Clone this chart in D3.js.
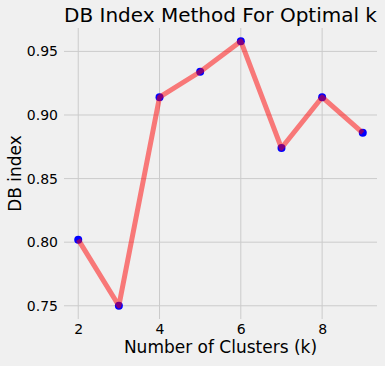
<!DOCTYPE html>
<html>
<head>
<meta charset="utf-8">
<script src="https://cdn.jsdelivr.net/npm/d3@7"></script>
<style>
  body { margin: 0; background: #f0f0f0; }
  svg { display: block; font-family: "DejaVu Sans", sans-serif; }
</style>
</head>
<body>
<div id="chart"></div>
<script>
const clusters = [2, 3, 4, 5, 6, 7, 8, 9];
const dbIndex = [0.802, 0.750, 0.914, 0.934, 0.958, 0.874, 0.914, 0.886];
const xTicks = [2, 4, 6, 8];
const yTicks = [0.75, 0.80, 0.85, 0.90, 0.95];

const width = 385, height = 366;
const margin = {top: 28, right: 8, bottom: 47, left: 64};

const svg = d3.select("#chart")
              .append("svg")
              .attr("width", width)
              .attr("height", height);

svg.append("rect")
   .attr("width", width)
   .attr("height", height)
   .attr("fill", "#f0f0f0");

// matplotlib style 5% margins
const xPad = (d3.max(clusters) - d3.min(clusters)) * 0.05;
const yPad = (d3.max(dbIndex) - d3.min(dbIndex)) * 0.05;

const x = d3.scaleLinear()
            .domain([d3.min(clusters) - xPad, d3.max(clusters) + xPad])
            .range([margin.left, width - margin.right]);
const y = d3.scaleLinear()
            .domain([d3.min(dbIndex) - yPad, d3.max(dbIndex) + yPad])
            .range([height - margin.bottom, margin.top]);

// grid
svg.append("g")
   .selectAll("line")
   .data(xTicks)
   .enter()
   .append("line")
   .attr("x1", d => x(d)).attr("x2", d => x(d))
   .attr("y1", margin.top).attr("y2", height - margin.bottom)
   .attr("stroke", "#cbcbcb").attr("stroke-width", 1);
svg.append("g")
   .selectAll("line")
   .data(yTicks)
   .enter()
   .append("line")
   .attr("x1", margin.left).attr("x2", width - margin.right)
   .attr("y1", d => y(d)).attr("y2", d => y(d))
   .attr("stroke", "#cbcbcb").attr("stroke-width", 1);

// axes (labels only, no domain)
const xAxis = svg.append("g")
   .attr("transform", "translate(0," + (height - margin.bottom) + ")")
   .call(d3.axisBottom(x).tickValues(xTicks).tickSize(0).tickPadding(5));
const yAxis = svg.append("g")
   .attr("transform", "translate(" + margin.left + ",0)")
   .call(d3.axisLeft(y).tickValues(yTicks).tickSize(0).tickPadding(6).tickFormat(d3.format(".2f")));
[xAxis, yAxis].forEach(function (g) {
    g.select(".domain").remove();
    g.selectAll("text")
     .style("font-size", "14px")
     .style("font-family", "DejaVu Sans")
     .attr("fill", "#000");
});

// markers first, then semi-transparent line over them
svg.append("g")
   .selectAll("circle")
   .data(clusters)
   .enter()
   .append("circle")
   .attr("cx", d => x(d))
   .attr("cy", (d, i) => y(dbIndex[i]))
   .attr("r", 4)
   .attr("fill", "#0000ff");

const line = d3.line()
               .x(d => x(d))
               .y((d, i) => y(dbIndex[i]));
svg.append("path")
   .datum(clusters)
   .attr("d", line)
   .attr("fill", "none")
   .attr("stroke", "#ff0000")
   .attr("stroke-opacity", 0.5)
   .attr("stroke-width", 5)
   .attr("stroke-linejoin", "round")
   .attr("stroke-linecap", "butt");

// titles
svg.append("text")
   .attr("x", (margin.left + width - margin.right) / 2)
   .attr("y", 22)
   .attr("text-anchor", "middle")
   .style("font-size", "20px")
   .attr("fill", "#000")
   .text("DB Index Method For Optimal k");
svg.append("text")
   .attr("x", (margin.left + width - margin.right) / 2)
   .attr("y", 353)
   .attr("text-anchor", "middle")
   .style("font-size", "17px")
   .attr("fill", "#000")
   .text("Number of Clusters (k)");
svg.append("text")
   .attr("transform", "translate(21," + ((margin.top + height - margin.bottom) / 2) + ")rotate(-90)")
   .attr("text-anchor", "middle")
   .style("font-size", "17px")
   .attr("fill", "#000")
   .text("DB index");
</script>
</body>
</html>
